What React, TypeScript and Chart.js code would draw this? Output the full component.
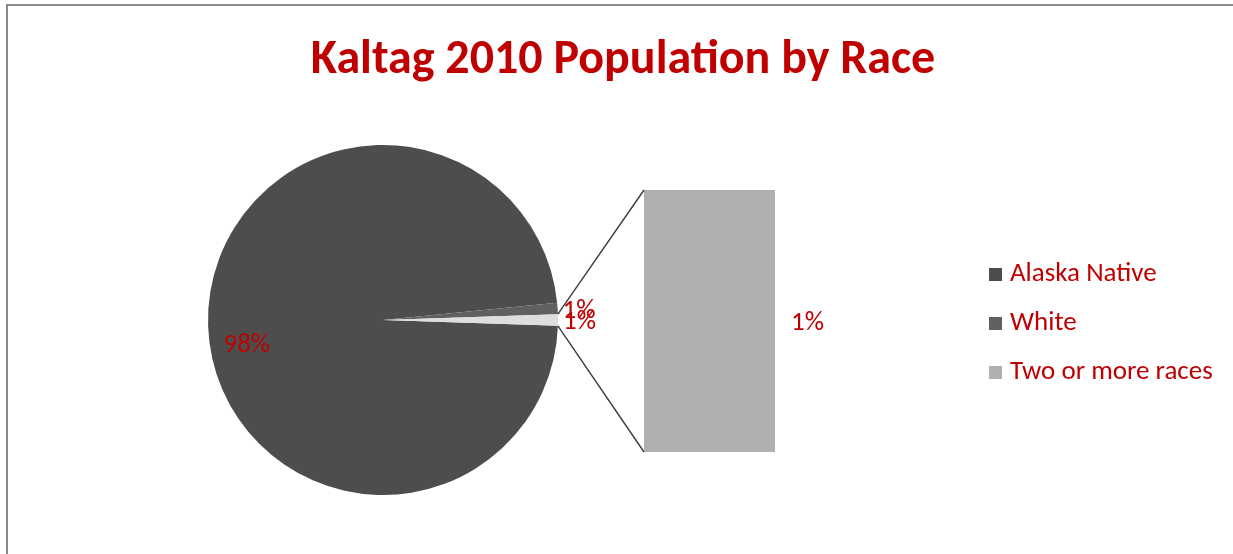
import React, { useEffect, useRef } from "react";
import { Chart, registerables } from "chart.js";

Chart.register(...registerables);

// ---------- data ----------
const TITLE = "Kaltag 2010 Population by Race";
const pieLabels = ["Alaska Native", "White", "Other"];
const pieValues = [186, 2, 2];
const pieColors = ["#4d4d4d", "#606060", "#dedede"];
const barLabels = ["Two or more races"];
const barValues = [2];
const barColors = ["#afafaf"];
const legendLabels = ["Alaska Native", "White", "Two or more races"];
const legendColors = ["#4d4d4d", "#606060", "#afafaf"];

// ---------- style / layout ----------
const W = 1233;
const H = 554;
const RED = "#c00000";
const FONT = "Carlito, Lato, 'Noto Sans', sans-serif";
const PIE_BOX = { left: 208, right: 558, top: 145, bottom: 495 };
const BAR_BOX = { left: 644, right: 775, top: 190, bottom: 452 };

const total = pieValues.reduce((a, b) => a + b, 0);
const pct = (v: number, t: number) => Math.round((v / t) * 100) + "%";

export default function App() {
  const pieRef = useRef<HTMLCanvasElement | null>(null);
  const barRef = useRef<HTMLCanvasElement | null>(null);

  useEffect(() => {
    if (!pieRef.current || !barRef.current) return;
    const otherShare = pieValues[pieValues.length - 1] / total;
    const rotation = 90 + otherShare * 180;

    const pieDecor = {
      id: "pieDecor",
      afterDatasetsDraw(chart: any) {
        const ctx = chart.ctx;
        const meta = chart.getDatasetMeta(0);
        ctx.save();
        ctx.fillStyle = RED;
        ctx.font = `27px ${FONT}`;
        meta.data.forEach((arc: any, i: number) => {
          const p = arc.getProps(["x", "y", "startAngle", "endAngle", "outerRadius"], true);
          const mid = (p.startAngle + p.endAngle) / 2;
          const txt = pct(pieValues[i], total);
          if (i === 0) {
            const a = mid - (8 * Math.PI) / 180;
            const rr = p.outerRadius * 0.79;
            ctx.textAlign = "center";
            ctx.textBaseline = "middle";
            ctx.fillText(txt, p.x + Math.cos(a) * rr, p.y + Math.sin(a) * rr + 1);
          } else {
            const rr = p.outerRadius + 5;
            ctx.textAlign = "left";
            ctx.textBaseline = "middle";
            ctx.fillText(txt, p.x + Math.cos(mid) * rr, p.y + Math.sin(mid) * rr * 0.92 + 2);
          }
        });
        ctx.restore();
      },
      afterDraw(chart: any) {
        const ctx = chart.ctx;
        ctx.save();
        // title
        ctx.fillStyle = RED;
        ctx.font = `bold 48px ${FONT}`;
        ctx.textAlign = "center";
        ctx.textBaseline = "alphabetic";
        ctx.fillText(TITLE, 623, 73);
        // legend
        ctx.font = `27px ${FONT}`;
        ctx.textAlign = "left";
        ctx.textBaseline = "middle";
        legendLabels.forEach((lab, i) => {
          const y = 274 + i * 49;
          ctx.fillStyle = legendColors[i];
          ctx.fillRect(989, y - 6, 13, 13);
          ctx.fillStyle = RED;
          ctx.fillText(lab, 1010, y);
        });
        ctx.restore();
      },
    };

    const pie = new Chart(pieRef.current, {
      type: "pie",
      data: {
        labels: pieLabels,
        datasets: [
          {
            data: pieValues,
            backgroundColor: pieColors,
            borderWidth: 0,
          },
        ],
      },
      options: {
        responsive: false,
        maintainAspectRatio: false,
        animation: false,
        rotation,
        layout: {
          padding: {
            left: PIE_BOX.left,
            right: W - PIE_BOX.right,
            top: PIE_BOX.top,
            bottom: H - PIE_BOX.bottom,
          },
        },
        plugins: { legend: { display: false }, tooltip: { enabled: false }, title: { display: false } },
      },
      plugins: [pieDecor],
    });

    const barDecor = {
      id: "barDecor",
      afterDatasetsDraw(chart: any) {
        const ctx = chart.ctx;
        const bar = chart.getDatasetMeta(0).data[0] as any;
        const bp = bar.getProps(["x", "y", "base", "width"], true);
        const left = bp.x - bp.width / 2;
        const right = bp.x + bp.width / 2;
        const top = Math.min(bp.y, bp.base);
        const bottom = Math.max(bp.y, bp.base);
        const arcs = pie.getDatasetMeta(0).data as any[];
        const other = arcs[arcs.length - 1].getProps(["x", "y", "startAngle", "endAngle", "outerRadius"], true);
        ctx.save();
        ctx.strokeStyle = "#3c3c3c";
        ctx.lineWidth = 1.4;
        ctx.beginPath();
        ctx.moveTo(other.x + Math.cos(other.startAngle) * other.outerRadius, other.y + Math.sin(other.startAngle) * other.outerRadius);
        ctx.lineTo(left, top);
        ctx.moveTo(other.x + Math.cos(other.endAngle) * other.outerRadius, other.y + Math.sin(other.endAngle) * other.outerRadius);
        ctx.lineTo(left, bottom);
        ctx.stroke();
        // bar label
        ctx.fillStyle = RED;
        ctx.font = `27px ${FONT}`;
        ctx.textAlign = "left";
        ctx.textBaseline = "middle";
        ctx.fillText(pct(barValues[0], total), right + 16, (top + bottom) / 2 + 2);
        ctx.restore();
      },
    };

    const barTotal = barValues.reduce((a, b) => a + b, 0);
    const bar = new Chart(barRef.current, {
      type: "bar",
      data: {
        labels: [""],
        datasets: barLabels.map((lab, i) => ({
          label: lab,
          data: [barValues[i]],
          backgroundColor: barColors[i],
          borderWidth: 0,
          barPercentage: 1,
          categoryPercentage: 1,
        })),
      },
      options: {
        responsive: false,
        maintainAspectRatio: false,
        animation: false,
        layout: {
          padding: {
            left: BAR_BOX.left,
            right: W - BAR_BOX.right,
            top: BAR_BOX.top,
            bottom: H - BAR_BOX.bottom,
          },
        },
        scales: {
          x: { display: false, stacked: true },
          y: { display: false, stacked: true, min: 0, max: barTotal },
        },
        plugins: { legend: { display: false }, tooltip: { enabled: false } },
      },
      plugins: [barDecor],
    });

    return () => {
      bar.destroy();
      pie.destroy();
    };
  }, []);

  return (
    <div style={{ position: "fixed", left: 0, top: 0, width: W, height: H, overflow: "hidden", background: "#fff" }}>
      <div
        style={{
          position: "absolute",
          left: 6,
          top: 4,
          width: W + 50,
          height: H + 50,
          borderTop: "2px solid #8a8a8a",
          borderLeft: "2px solid #8a8a8a",
        }}
      />
      <canvas ref={pieRef} width={W} height={H} style={{ position: "absolute", left: 0, top: 0 }} />
      <canvas ref={barRef} width={W} height={H} style={{ position: "absolute", left: 0, top: 0 }} />
    </div>
  );
}
